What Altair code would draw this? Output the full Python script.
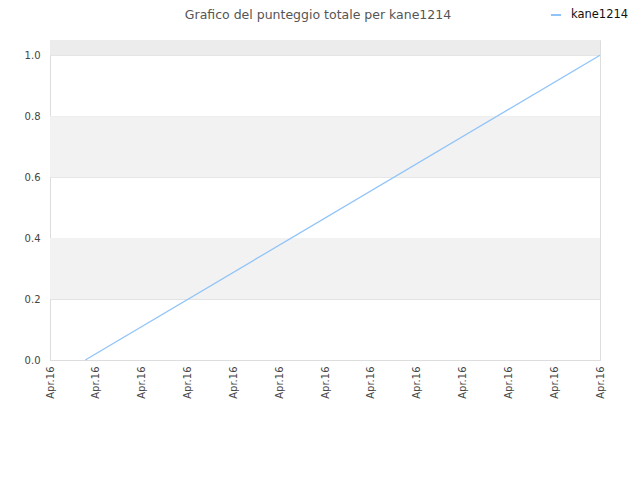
import altair as alt
import pandas as pd

# Data
series_name = ["kane1214", "kane1214"]
x_pos = [0.77, 12.0]
scores = [0.0, 1.0]
tick_values = list(range(13))
tick_label = "Apr.16"
band_lo = [0.2, 0.6, 1.0]
band_hi = [0.4, 0.8, 1.05]
band_col = ["#f2f2f2", "#f2f2f2", "#ececec"]
title_text = "Grafico del punteggio totale per kane1214"

line_df = pd.DataFrame({"x": x_pos, "y": scores, "serie": series_name})
band_df = pd.DataFrame({"lo": band_lo, "hi": band_hi, "c": band_col})

xscale = alt.Scale(domain=[0, 12], nice=False, zero=False)
yscale = alt.Scale(domain=[0, 1.05], nice=False)

bands = alt.Chart(band_df).mark_rect().encode(
    x=alt.value(0), x2=alt.value(550),
    y=alt.Y("lo:Q", scale=yscale),
    y2="hi:Q",
    color=alt.Color("c:N", scale=None),
)

line = alt.Chart(line_df).mark_line(strokeWidth=1.3).encode(
    x=alt.X("x:Q", scale=xscale,
            axis=alt.Axis(values=tick_values, labelExpr=f"'{tick_label}'", labelAngle=-90,
                          labelAlign="right", labelBaseline="middle", labelFontSize=10,
                          labelColor="#444", ticks=False, grid=False, domainColor="#dddddd",
                          title=None, labelPadding=6, labelFont="DejaVu Sans")),
    y=alt.Y("y:Q", scale=yscale,
            axis=alt.Axis(values=[0, 0.2, 0.4, 0.6, 0.8, 1.0], format=".1f", labelFontSize=10,
                          labelColor="#444", ticks=False, gridColor="#e3e3e3", domainColor="#dddddd",
                          title=None, labelPadding=10, labelFont="DejaVu Sans")),
    color=alt.Color("serie:N", scale=alt.Scale(range=["#90c4f8"]),
                    legend=alt.Legend(title=None, orient="none", legendX=500, legendY=-31,
                                      symbolType="stroke", symbolStrokeWidth=2, symbolSize=100,
                                      labelOffset=9,
                                      labelFontSize=11.5, labelColor="#111", labelFont="DejaVu Sans")),
)

title = alt.Chart(pd.DataFrame({"t": [title_text]})).mark_text(
    fontSize=12.5, color="#555", font="DejaVu Sans", align="center", baseline="alphabetic"
).encode(x=alt.value(268), y=alt.value(-21), text="t:N")

chart = alt.layer(bands, line, title).properties(
    width=550, height=320,
    autosize=alt.AutoSizeParams(type="none"),
    padding={"left": 42, "top": 32, "right": 30, "bottom": 50},
).configure_view(stroke="#dddddd")

chart.save("out.html", embed_options={"renderer": "svg", "actions": False})
